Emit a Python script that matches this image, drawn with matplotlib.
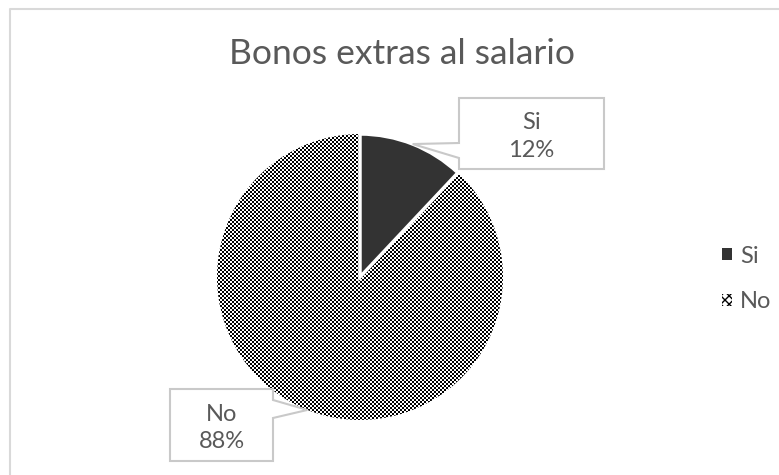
import numpy as np
import matplotlib
matplotlib.use("Agg")
from matplotlib import pyplot as plt
from matplotlib.patches import Patch, Polygon

# datos
categorias = ["Si", "No"]
porcentajes = [12, 88]
colores = ["#333333", "white"]
titulo = "Bonos extras al salario"

W, H = 779, 475
plt.rcParams['font.family'] = ['Lato', 'DejaVu Sans']
gris = "#595959"
borde = "#C9C9C9"

fig = plt.figure(figsize=(W / 100, H / 100), dpi=100)
ax = fig.add_axes([0, 0, 1, 1])

def py(y):
  # coordenada y de la imagen -> coordenada del eje
  return H - y

cx, cy, r = 360, py(277), 143
wedges, _ = ax.pie(porcentajes, colors=colores, startangle=90, counterclock=False,
                   center=(cx, cy), radius=r,
                   wedgeprops=dict(edgecolor="white", linewidth=2.5))
wedges[0].set_zorder(3)

# patron de cuadros para "No"
yy, xx = np.mgrid[0:H, 0:W]
patron = ((xx // 2 + yy // 2) % 2).astype(float)
img = ax.imshow(patron, cmap="gray", extent=(0, W, 0, H), origin="lower",
                interpolation="nearest", zorder=2, vmin=0, vmax=1)
img.set_clip_path(wedges[1])

ax.set_xlim(0, W)
ax.set_ylim(0, H)
ax.set_aspect("equal")
ax.axis("off")

# borde del grafico
ax.plot([10, 10, W + 5], [py(H + 5), py(9), py(9)], color="#D9D9D9", lw=1.5, zorder=1)

ax.text(402, py(54), titulo, ha="center", va="center", fontsize=25.5, color=gris)

# etiquetas con llamada
cajas = [(459, 604, 98, 169, "left"), (170, 273, 389, 461, "right")]
for w, (x0, x1, y0, y1, lado), cat, p in zip(wedges, cajas, categorias, porcentajes):
  ang = np.deg2rad((w.theta1 + w.theta2) / 2)
  tx, ty = cx + r * np.cos(ang), cy + r * np.sin(ang)
  if lado == "left":
    pts = [(x0, y0), (x1, y0), (x1, y1), (x0, y1), (x0, 158), (None, None), (x0, 143)]
  else:
    pts = [(x0, y0), (x1, y0), (x1, 400), (None, None), (x1, 418), (x1, y1), (x0, y1)]
  pts = [(tx, ty) if a is None else (a, py(b)) for a, b in pts]
  ax.add_patch(Polygon(pts, closed=True, facecolor="white", edgecolor=borde, lw=1.5, zorder=4))
  ax.text((x0 + x1) / 2, py((y0 + y1) / 2 + 3), "%s\n%d%%" % (cat, p), ha="center", va="center",
          fontsize=17, color=gris, linespacing=1.4, zorder=5)

handles = [Patch(facecolor=colores[0], edgecolor="none"),
           Patch(facecolor="white", edgecolor="black", hatch="xxxx", lw=0)]
leg = ax.legend(handles, categorias, loc="center left", bbox_to_anchor=(722, py(279)),
                bbox_transform=ax.transData, frameon=False, fontsize=17,
                borderaxespad=0, borderpad=0,
                handlelength=0.42, handleheight=0.42, handletextpad=0.35,
                labelspacing=1.05, labelcolor=gris)

fig.savefig("out.png", dpi=100)
